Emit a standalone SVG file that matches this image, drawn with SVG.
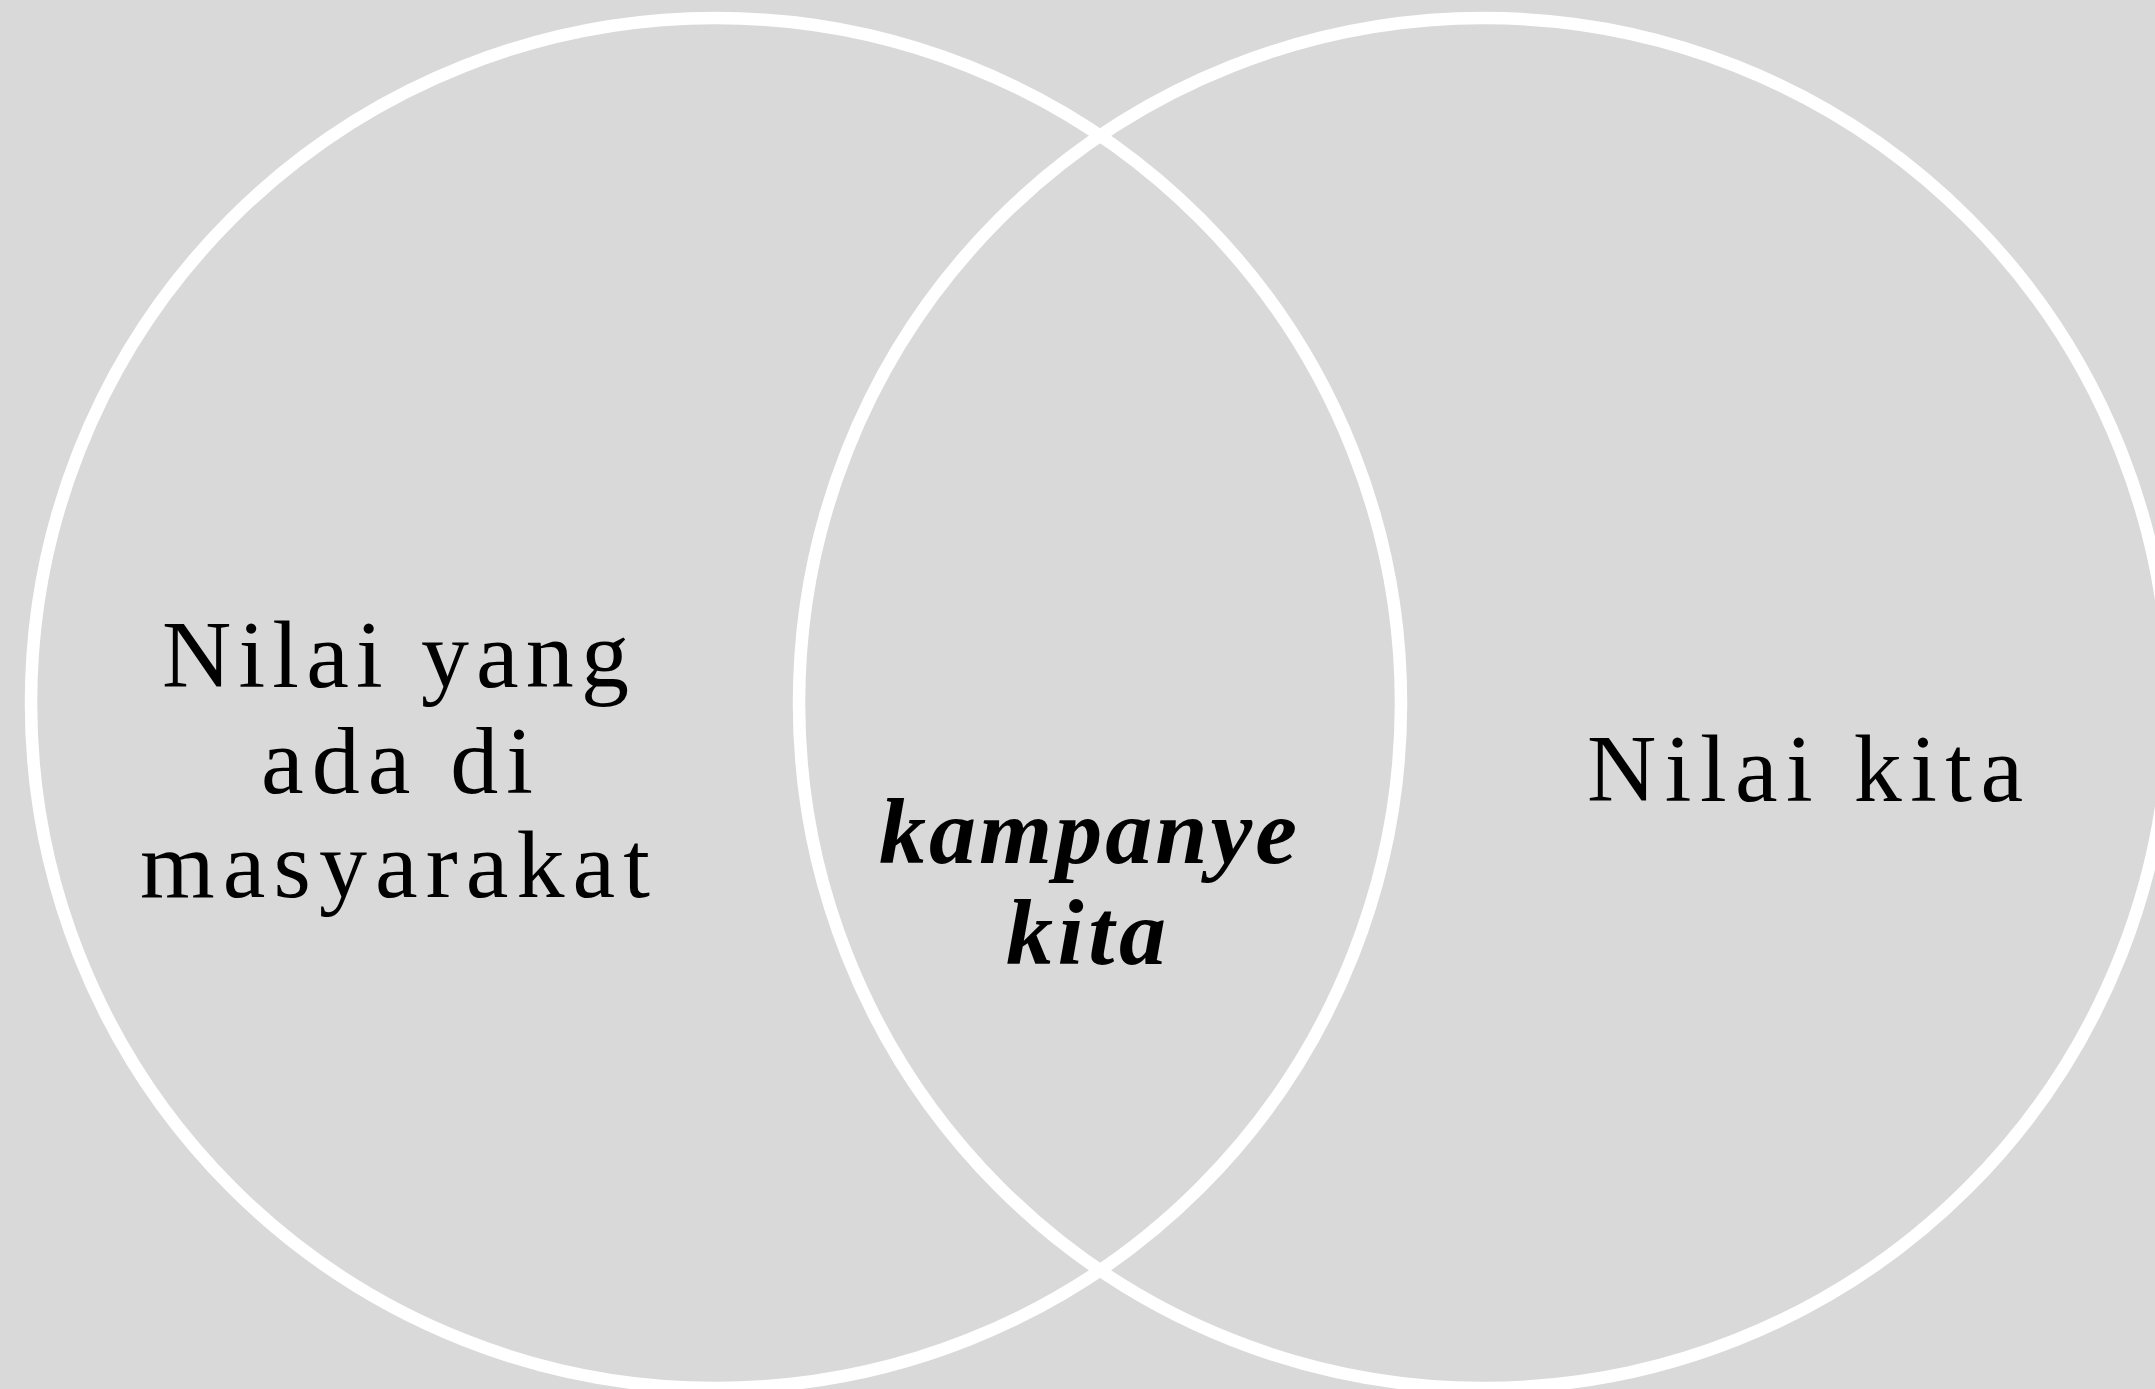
<svg xmlns="http://www.w3.org/2000/svg" width="2155" height="1389" viewBox="0 0 2155 1389">
<style>
.circ{fill:none;stroke:#ffffff;stroke-width:12.5}
.lbl{font-family:"Liberation Serif","DejaVu Serif",serif;font-size:96px;fill:#000000;text-anchor:start}
.it{font-style:italic;font-weight:600;font-size:94px}
</style>
<rect x="0" y="0" width="2155" height="1389" fill="#d9d9d9"/>
<g id="circle-left">
<circle class="circ" cx="716" cy="703" r="685"/>
<text class="lbl" x="162" y="687" textLength="467" lengthAdjust="spacing">Nilai yang</text>
<text class="lbl" x="261" y="793" textLength="272" lengthAdjust="spacing">ada di</text>
<text class="lbl" x="140" y="897" textLength="510" lengthAdjust="spacing">masyarakat</text>
</g>
<g id="circle-right">
<circle class="circ" cx="1484" cy="703" r="685"/>
<text class="lbl" x="1587" y="801" textLength="436" lengthAdjust="spacing">Nilai kita</text>
</g>
<g id="intersection">
<text class="lbl it" x="879" y="863" textLength="418" lengthAdjust="spacing">kampanye</text>
<text class="lbl it" x="1006" y="964" textLength="160" lengthAdjust="spacing">kita</text>
</g>
<g id="connectors"></g>
</svg>
